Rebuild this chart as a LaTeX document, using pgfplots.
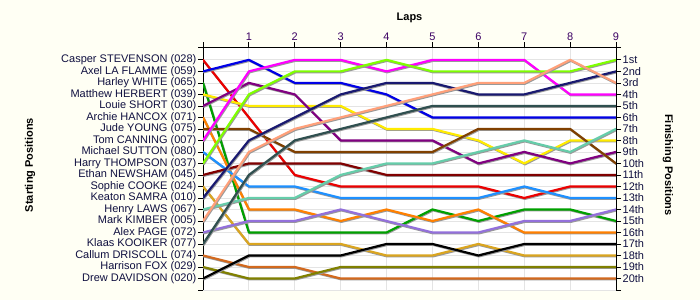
\documentclass[border=0pt]{standalone}
\usepackage{pgfplots}
\usepackage{pgfplotstable}
\pgfplotsset{compat=1.18}
\usepackage{fontspec}
\setmainfont{Liberation Sans}
\definecolor{bg}{RGB}{255,255,244}
\definecolor{txt}{RGB}{16,16,64}
\definecolor{xtxt}{RGB}{60,0,100}
\definecolor{gridc}{RGB}{228,228,228}
\definecolor{cA}{RGB}{235,0,0}
\definecolor{cB}{RGB}{0,0,230}
\definecolor{cC}{RGB}{0,160,0}
\definecolor{cD}{RGB}{255,235,0}
\definecolor{cE}{RGB}{128,0,128}
\definecolor{cF}{RGB}{255,128,0}
\definecolor{cG}{RGB}{128,64,0}
\definecolor{cH}{RGB}{255,0,255}
\definecolor{cI}{RGB}{30,144,255}
\definecolor{cJ}{RGB}{127,255,0}
\definecolor{cK}{RGB}{128,0,0}
\definecolor{cL}{RGB}{218,165,32}
\definecolor{cM}{RGB}{25,25,112}
\definecolor{cN}{RGB}{102,205,170}
\definecolor{cO}{RGB}{255,160,122}
\definecolor{cP}{RGB}{147,112,219}
\definecolor{cQ}{RGB}{47,79,79}
\definecolor{cR}{RGB}{210,105,30}
\definecolor{cS}{RGB}{128,128,0}
\definecolor{cT}{RGB}{0,0,0}
\pgfplotstableread{
lap d1 d2 d3 d4 d5 d6 d7 d8 d9 d10 d11 d12 d13 d14 d15 d16 d17 d18 d19 d20
0 1 2 3 4 5 6 7 8 9 10 11 12 13 14 15 16 17 18 19 20
1 6 1 16 5 3 14 7 2 12 4 10 17 8 13 9 15 11 19 20 18
2 11 3 16 5 4 14 9 1 12 2 10 17 6 13 7 15 8 19 20 18
3 12 3 16 5 8 15 9 1 13 2 10 17 4 11 6 14 7 20 19 18
4 12 4 16 7 8 14 9 2 13 1 11 18 3 10 5 15 6 20 19 17
5 12 6 14 7 8 15 9 1 13 2 11 18 3 10 4 16 5 20 19 17
6 12 6 15 8 10 14 7 1 13 2 11 17 4 9 3 16 5 20 19 18
7 13 6 14 10 9 16 7 1 12 2 11 18 4 8 3 15 5 20 19 17
8 12 6 14 8 10 16 7 4 13 2 11 18 3 9 1 15 5 20 19 17
9 12 6 15 8 9 16 10 4 13 1 11 18 2 7 3 14 5 20 19 17
}\laps
\begin{document}
\begin{tikzpicture}[font=\fontsize{11bp}{13bp}\selectfont]
\fill[bg] (0,0) rectangle (700bp,300bp);
\useasboundingbox (0,0) rectangle (700bp,300bp);
\begin{axis}[
  at={(203bp,10bp)}, anchor=south west,
  width=413bp, height=243bp, scale only axis,
  xmin=0, xmax=9, ymin=-0.12, ymax=21, y dir=reverse,
  axis background/.style={fill=white},
  axis x line=top, axis y line=left,
  x axis line style={-}, y axis line style={-},
  axis line style={black, line width=0.8pt},
  xtick={0,1,2,3,4,5,6,7,8,9},
  xticklabels={,1,2,3,4,5,6,7,8,9},
  ytick={-0.12,1,2,3,4,5,6,7,8,9,10,11,12,13,14,15,16,17,18,19,20,21},
  yticklabels={,Casper STEVENSON (028),Axel LA FLAMME (059),Harley WHITE (065),Matthew HERBERT (039),Louie SHORT (030),Archie HANCOX (071),Jude YOUNG (075),Tom CANNING (007),Michael SUTTON (080),Harry THOMPSON (037),Ethan NEWSHAM (045),Sophie COOKE (024),Keaton SAMRA (010),Henry LAWS (067),Mark KIMBER (005),Alex PAGE (072),Klaas KOOIKER (077),Callum DRISCOLL (074),Harrison FOX (029),Drew DAVIDSON (020),},
  tick align=outside, major tick length=5bp,
  tick style={black, line width=0.8pt},
  xmajorgrids, ymajorgrids,
  grid style={gridc, line width=0.8pt},
  y tick label style={font=\fontsize{11bp}{13bp}\selectfont, text=txt, inner sep=1.5bp},
  x tick label style={font=\fontsize{11bp}{13bp}\selectfont, text=xtxt, inner sep=1.5bp},
  /pgf/number format/assume math mode=true,
  no markers,
  every axis plot/.append style={line width=2.2pt, line join=round, line cap=round,
     preaction={draw=black!40, line width=2.2pt, transform canvas={xshift=0.7pt, yshift=-0.9pt}}},
]
\addplot[cA] table[x=lap,y=d1] {\laps};
\addplot[cB] table[x=lap,y=d2] {\laps};
\addplot[cC] table[x=lap,y=d3] {\laps};
\addplot[cD] table[x=lap,y=d4] {\laps};
\addplot[cE] table[x=lap,y=d5] {\laps};
\addplot[cF] table[x=lap,y=d6] {\laps};
\addplot[cG] table[x=lap,y=d7] {\laps};
\addplot[cH] table[x=lap,y=d8] {\laps};
\addplot[cI] table[x=lap,y=d9] {\laps};
\addplot[cJ] table[x=lap,y=d10] {\laps};
\addplot[cK] table[x=lap,y=d11] {\laps};
\addplot[cL] table[x=lap,y=d12] {\laps};
\addplot[cM] table[x=lap,y=d13] {\laps};
\addplot[cN] table[x=lap,y=d14] {\laps};
\addplot[cO] table[x=lap,y=d15] {\laps};
\addplot[cP] table[x=lap,y=d16] {\laps};
\addplot[cQ] table[x=lap,y=d17] {\laps};
\addplot[cR] table[x=lap,y=d18] {\laps};
\addplot[cS] table[x=lap,y=d19] {\laps};
\addplot[cT] table[x=lap,y=d20] {\laps};
\end{axis}
\begin{axis}[
  at={(203bp,10bp)}, anchor=south west,
  width=413bp, height=243bp, scale only axis,
  xmin=0, xmax=9, ymin=-0.12, ymax=21, y dir=reverse,
  hide x axis, axis y line=right, y axis line style={-},
  axis line style={black, line width=0.8pt},
  ytick={-0.12,1,2,3,4,5,6,7,8,9,10,11,12,13,14,15,16,17,18,19,20,21},
  yticklabels={,1st,2nd,3rd,4th,5th,6th,7th,8th,9th,10th,11th,12th,13th,14th,15th,16th,17th,18th,19th,20th,},
  tick align=outside, major tick length=5bp,
  tick style={black, line width=0.8pt},
  y tick label style={font=\fontsize{11bp}{13bp}\selectfont, text=txt, inner sep=1.5bp},
]
\end{axis}
\node[font=\fontsize{11bp}{13bp}\selectfont\bfseries] at (409.5bp,282bp) {Laps};
\node[font=\fontsize{11bp}{13bp}\selectfont\bfseries, rotate=90] at (30bp,135bp) {Starting Positions};
\node[font=\fontsize{11bp}{13bp}\selectfont\bfseries, rotate=-90] at (668bp,135bp) {Finishing Positions};
\end{tikzpicture}
\end{document}
